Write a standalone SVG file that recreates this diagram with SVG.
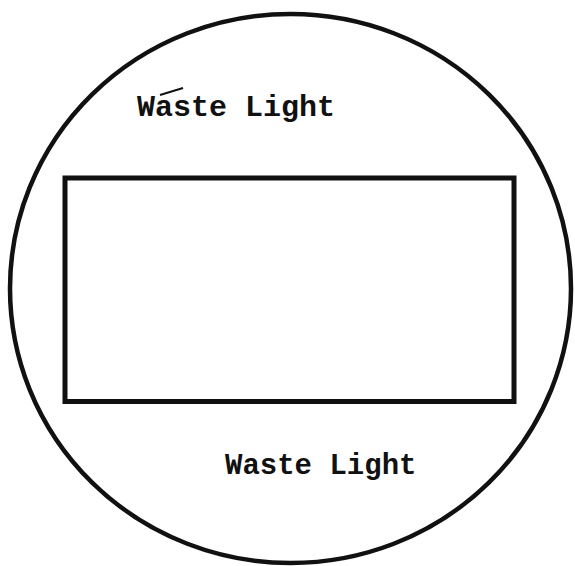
<svg xmlns="http://www.w3.org/2000/svg" width="575" height="566" viewBox="0 0 575 566">
<style>
.ln{fill:none;stroke:#111;}
.lbl{font-family:"Liberation Mono","Courier New",monospace;font-size:29px;fill:#111;font-weight:bold;}
</style>
<rect width="575" height="566" fill="#fff"/>
<g id="outline">
<ellipse class="ln" cx="290.5" cy="288.5" rx="280.5" ry="274.5" stroke-width="4.5"/>
</g>
<g id="frame">
<rect class="ln" x="65" y="178" width="449" height="223.5" stroke-width="5"/>
</g>
<g id="label-top">
<text class="lbl" x="137" y="116" style="font-size:30px">Waste Light</text>
<path class="ln" d="M160 95 L183 88" stroke-width="2"/>
</g>
<g id="label-bottom">
<text class="lbl" x="225" y="474">Waste Light</text>
</g>
</svg>
